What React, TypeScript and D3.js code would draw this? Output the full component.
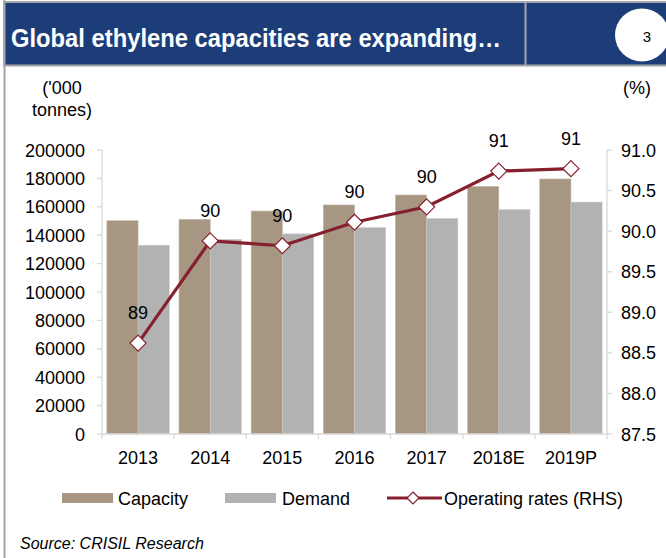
import React from "react";
import * as d3 from "d3";

const categories = ["2013", "2014", "2015", "2016", "2017", "2018E", "2019P"];
const capacity = [150200, 151200, 157000, 161300, 168300, 174300, 179600];
const demand = [132900, 137000, 140900, 145300, 151700, 158000, 163300];
const operatingRates = [88.62, 89.88, 89.82, 90.11, 90.3, 90.74, 90.77];
const rateLabels = ["89", "90", "90", "90", "90", "91", "91"];
const leftTicks = [0, 20000, 40000, 60000, 80000, 100000, 120000, 140000, 160000, 180000, 200000];
const rightTicks = [87.5, 88.0, 88.5, 89.0, 89.5, 90.0, 90.5, 91.0];
const seriesNames = ["Capacity", "Demand"];

const W = 666;
const H = 558;
const FONT = "'Liberation Sans', Arial, sans-serif";
const C_CAP = "#A69682";
const C_DEM = "#B2B2B2";
const C_LINE = "#86202E";
const C_AXIS = "#D9D9D9";
const C_BLUE = "#1C3D78";

export default function App() {
  const left = 102;
  const right = 607;
  const top = 150;
  const bottom = 434;

  const x0 = d3.scaleBand<string>().domain(categories).range([left, right]).paddingInner(0).paddingOuter(0);
  const x1 = d3.scaleBand<string>().domain(seriesNames).range([0, x0.bandwidth()]).paddingInner(0).paddingOuter(0.157);
  const yL = d3.scaleLinear().domain([0, 200000]).range([bottom, top]);
  const yR = d3.scaleLinear().domain([87.5, 91.0]).range([bottom, top]);

  const cx = (c: string) => (x0(c) as number) + x0.bandwidth() / 2;
  const line = d3
    .line<number>()
    .x((_, i) => cx(categories[i]))
    .y((d) => yR(d));

  const diamond = (x: number, y: number, r: number) =>
    `M${x},${y - r}L${x + r},${y}L${x},${y + r}L${x - r},${y}Z`;

  const boundaries = [...categories.map((c) => x0(c) as number), right];

  return (
    <svg
      width={W}
      height={H}
      style={{ position: "absolute", left: 0, top: 0, background: "#fff" }}
      fontFamily={FONT}
    >
      {/* header */}
      <rect x={4} y={2} width={W - 3} height={63.5} fill={C_BLUE} stroke="#A6A6A6" strokeWidth={2} />
      <line x1={525.5} y1={2} x2={525.5} y2={65} stroke="#A6A6A6" strokeWidth={2} />
      <text
        x={11}
        y={47}
        fill="#fff"
        fontSize={25}
        fontWeight="bold"
        textLength={490}
        lengthAdjust="spacingAndGlyphs"
      >
        Global ethylene capacities are expanding…
      </text>
      <ellipse cx={642} cy={35} rx={27} ry={26.5} fill="#fff" />
      <text x={647} y={42} fontSize={15} textAnchor="middle" fill="#000">
        3
      </text>
      {/* left border */}
      <line x1={4.5} y1={0} x2={4.5} y2={H} stroke="#A6A6A6" strokeWidth={2} />

      {/* axis titles */}
      <text x={62} y={94} fontSize={18} textAnchor="middle">('000</text>
      <text x={62} y={116} fontSize={18} textAnchor="middle">tonnes)</text>
      <text x={637} y={94} fontSize={18} textAnchor="middle">(%)</text>

      {/* bars */}
      {categories.map((c, i) => (
        <g key={c}>
          <rect
            x={(x0(c) as number) + (x1("Capacity") as number)}
            y={yL(capacity[i])}
            width={x1.bandwidth()}
            height={bottom - yL(capacity[i])}
            fill={C_CAP}
            stroke="#C2B6A8"
            strokeWidth={0.6}
          />
          <rect
            x={(x0(c) as number) + (x1("Demand") as number)}
            y={yL(demand[i])}
            width={x1.bandwidth()}
            height={bottom - yL(demand[i])}
            fill={C_DEM}
            stroke="#C8C8C8"
            strokeWidth={0.6}
          />
        </g>
      ))}

      {/* axes */}
      <line x1={left} y1={top} x2={left} y2={bottom} stroke={C_AXIS} strokeWidth={1.3} />
      <line x1={right} y1={top} x2={right} y2={bottom} stroke={C_AXIS} strokeWidth={1.3} />
      <line x1={left} y1={bottom} x2={right} y2={bottom} stroke={C_AXIS} strokeWidth={1.3} />
      {leftTicks.map((t) => (
        <g key={"l" + t}>
          <line x1={left - 5} x2={left} y1={yL(t)} y2={yL(t)} stroke={C_AXIS} strokeWidth={1.3} />
          <text x={85} y={yL(t) + 6.5} fontSize={18} textAnchor="end">
            {t}
          </text>
        </g>
      ))}
      {rightTicks.map((t) => (
        <g key={"r" + t}>
          <line x1={right} x2={right + 5} y1={yR(t)} y2={yR(t)} stroke={C_AXIS} strokeWidth={1.3} />
          <text x={621} y={yR(t) + 6.5} fontSize={18} textAnchor="start">
            {d3.format(".1f")(t)}
          </text>
        </g>
      ))}
      {boundaries.map((b, i) => (
        <line key={"b" + i} x1={b} x2={b} y1={bottom} y2={bottom + 5} stroke={C_AXIS} strokeWidth={1.3} />
      ))}
      {categories.map((c) => (
        <text key={"c" + c} x={cx(c)} y={464} fontSize={18} textAnchor="middle">
          {c}
        </text>
      ))}

      {/* line series */}
      <path d={line(operatingRates) || ""} fill="none" stroke={C_LINE} strokeWidth={3.2} />
      {operatingRates.map((v, i) => (
        <g key={"m" + i}>
          <path d={diamond(cx(categories[i]), yR(v), 8)} fill="#fff" stroke={C_LINE} strokeWidth={1.2} />
          <text x={cx(categories[i])} y={yR(v) - 24} fontSize={18} textAnchor="middle">
            {rateLabels[i]}
          </text>
        </g>
      ))}

      {/* legend */}
      <rect x={62} y={493} width={51} height={10} fill={C_CAP} />
      <text x={118} y={504.5} fontSize={18}>Capacity</text>
      <rect x={225} y={493} width={51} height={10} fill={C_DEM} />
      <text x={282} y={504.5} fontSize={18}>Demand</text>
      <line x1={387} x2={442} y1={498} y2={498} stroke={C_LINE} strokeWidth={3.2} />
      <path d={diamond(413, 498, 6)} fill="#fff" stroke={C_LINE} strokeWidth={1.2} />
      <text x={444} y={504.5} fontSize={18}>Operating rates (RHS)</text>

      {/* source */}
      <text x={20} y={549} fontSize={16} fontStyle="italic">
        Source: CRISIL Research
      </text>
    </svg>
  );
}
